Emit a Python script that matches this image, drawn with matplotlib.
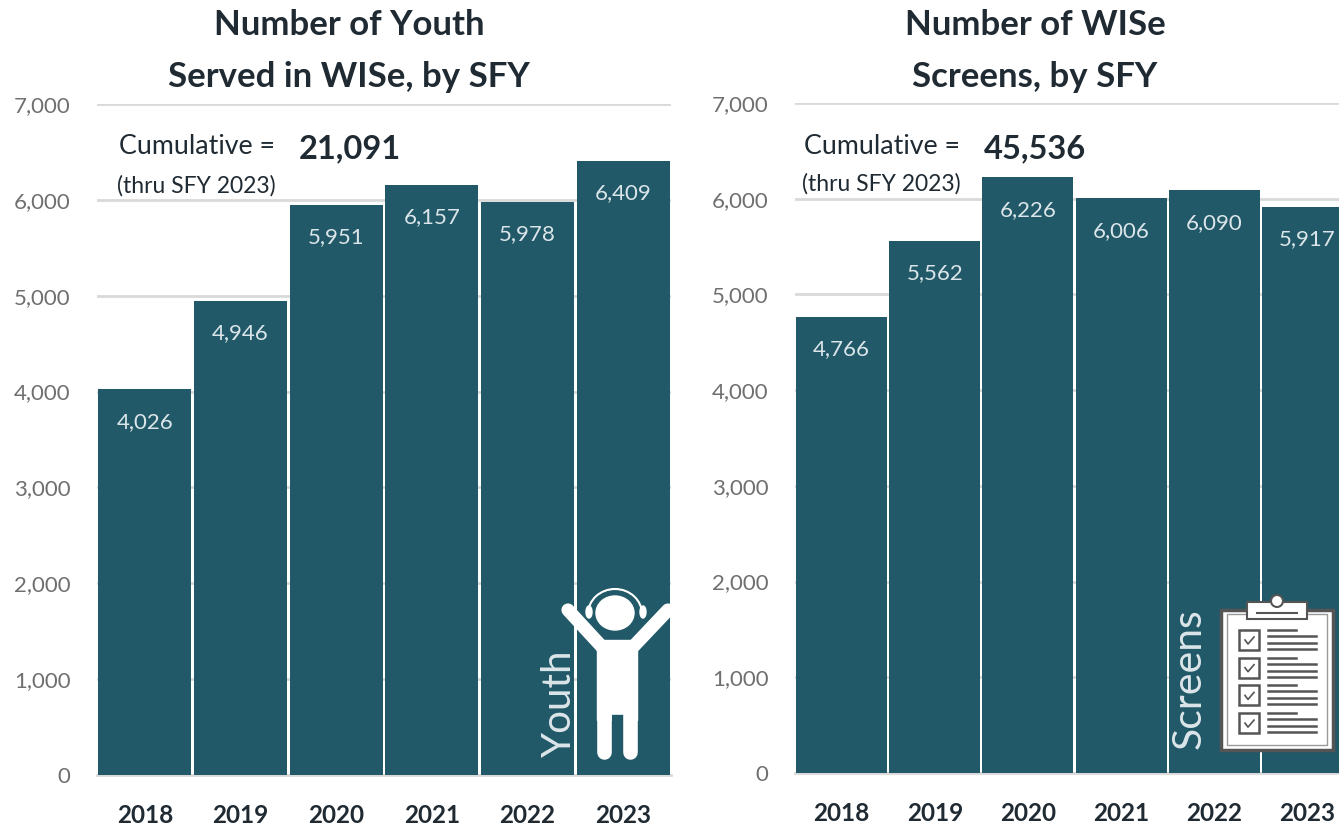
"""Two WISe bar panels: youth served and screens, by SFY."""

import matplotlib

matplotlib.use("Agg")
import matplotlib.pyplot as plt
from matplotlib.patches import Arc, Circle, Ellipse, Polygon, Rectangle

plt.rcParams["font.family"] = ["Lato", "DejaVu Sans"]

YEARS = ["2018", "2019", "2020", "2021", "2022", "2023"]
YOUTH_SERVED = [4026, 4946, 5951, 6157, 5978, 6409]
SCREENS = [4766, 5562, 6226, 6006, 6090, 5917]
Y_TICKS = [0, 1000, 2000, 3000, 4000, 5000, 6000, 7000]

COLOR_BAR = "#215968"
COLOR_GRID = "#d9d9d9"
COLOR_TICK = "#6f6f6f"
COLOR_TEXT = "#1f2a33"

W, H = 1339, 827


def panel(fig, left, right, top, bottom, values):
    ax = fig.add_axes([left / W, 1 - bottom / H, (right - left) / W, (bottom - top) / H])
    ax.bar(range(len(values)), values, width=0.975, color=COLOR_BAR, zorder=3)
    for i, v in enumerate(values):
        ax.text(i, v - 340, f"{v:,}", ha="center", va="center", color="#dce6ea", fontsize=16, zorder=4)
    ax.set_xlim(-0.5, len(values) - 0.5)
    ax.set_ylim(0, 7000)
    ax.set_yticks(Y_TICKS)
    ax.set_yticklabels([f"{t:,}" for t in Y_TICKS], color=COLOR_TICK, fontsize=16)
    ax.set_xticks(range(len(values)))
    ax.set_xticklabels(YEARS, fontsize=17.5, fontweight="bold", color=COLOR_TEXT)
    ax.tick_params(length=0)
    ax.tick_params(axis="x", pad=21)
    ax.tick_params(axis="y", pad=19)
    ax.grid(axis="y", color=COLOR_GRID, linewidth=2, zorder=0)
    for side in ["top", "right", "left"]:
        ax.spines[side].set_visible(False)
    ax.spines["bottom"].set_color(COLOR_GRID)
    ax.spines["bottom"].set_linewidth(2)
    return ax


def draw_youth(ov):
    white = "white"
    ov.add_patch(Polygon(
        [(597, 640), (637, 640), (637, 720), (597, 720)],
        closed=True, color=white, zorder=10))
    ov.add_patch(Rectangle((612, 715), 11, 10, color=COLOR_BAR, zorder=10))
    ov.plot([604, 604], [715, 752], color=white, lw=10.5, solid_capstyle="round", zorder=10)
    ov.plot([630, 630], [715, 752], color=white, lw=10.5, solid_capstyle="round", zorder=10)
    ov.plot([568, 603], [610, 648], color=white, lw=9.5, solid_capstyle="round", zorder=10)
    ov.plot([668, 632], [610, 648], color=white, lw=9.5, solid_capstyle="round", zorder=10)
    ov.add_patch(Ellipse((615, 613), 38, 34, color=white, zorder=10))
    ov.add_patch(Arc((615, 614), 54, 50, theta1=180, theta2=360, color=white, lw=1.5, zorder=10))
    ov.add_patch(Ellipse((589, 612), 6, 12, color=white, zorder=10))
    ov.add_patch(Ellipse((643, 612), 6, 12, color=white, zorder=10))


def draw_clipboard(ov):
    edge = "#555555"
    ov.add_patch(Rectangle((1221, 610), 112, 140, fc="white", ec=edge, lw=2.5, zorder=10))
    ov.add_patch(Rectangle((1227, 614), 100, 131, fc="white", ec="#999999", lw=1, zorder=10))
    ov.add_patch(Rectangle((1247, 602), 60, 17, fc="white", ec=edge, lw=1.5, zorder=11))
    ov.add_patch(Circle((1277, 601), 6, fc="white", ec=edge, lw=1.5, zorder=12))
    ov.plot([1257, 1297], [613, 613], color=edge, lw=1.5, zorder=12)
    for k in range(4):
        top = 630 + k * 27.7
        ov.add_patch(Rectangle((1239, top), 20, 20, fc="white", ec=edge, lw=1.8, zorder=11))
        ov.plot([1245, 1248, 1254], [top + 10, top + 14, top + 7], color=edge, lw=1.2, zorder=12)
        ov.plot([1268, 1296], [top, top], color=edge, lw=1.8, zorder=11)
        for dy in [6, 13, 19]:
            ov.plot([1268, 1316], [top + dy, top + dy], color=edge, lw=1.8, zorder=11)


fig = plt.figure(figsize=(W / 100, H / 100), dpi=100)
panel(fig, 97, 671, 104, 775, YOUTH_SERVED)
panel(fig, 795, 1354, 103, 773, SCREENS)

ov = fig.add_axes([0, 0, 1, 1], zorder=20)
ov.set_xlim(0, W)
ov.set_ylim(H, 0)
ov.axis("off")

TITLE = dict(ha="center", va="center", fontsize=25, fontweight="bold", color=COLOR_TEXT)
ov.text(349, 25, "Number of Youth", **TITLE)
ov.text(349, 77, "Served in WISe, by SFY", **TITLE)
ov.text(1035, 25, "Number of WISe", **TITLE)
ov.text(1035, 77, "Screens, by SFY", **TITLE)

ov.text(119, 146, "Cumulative =", fontsize=19.3, va="center", color=COLOR_TEXT)
ov.text(117, 186, "(thru SFY 2023)", fontsize=16.5, va="center", color=COLOR_TEXT)
ov.text(299, 149, "21,091", fontsize=23.5, fontweight="bold", va="center", color=COLOR_TEXT)
ov.text(804, 146, "Cumulative =", fontsize=19.3, va="center", color=COLOR_TEXT)
ov.text(802, 184, "(thru SFY 2023)", fontsize=16.5, va="center", color=COLOR_TEXT)
ov.text(984, 149, "45,536", fontsize=23.5, fontweight="bold", va="center", color=COLOR_TEXT)

ov.text(559, 703, "Youth", rotation=90, ha="center", va="center", fontsize=29, color="#dce6ea", zorder=9)
ov.text(1189, 679, "Screens", rotation=90, ha="center", va="center", fontsize=29.5, color="#dce6ea", zorder=9)
draw_youth(ov)
draw_clipboard(ov)

fig.savefig("out.png", dpi=100)
